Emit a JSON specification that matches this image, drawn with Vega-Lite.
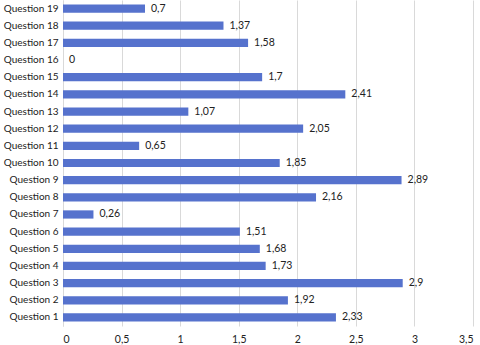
{
  "$schema": "https://vega.github.io/schema/vega-lite/v6.json",
  "width": 410,
  "height": 326,
  "autosize": {"type": "none"},
  "padding": {"left": 63, "top": 0, "right": 7, "bottom": 19},
  "background": "white",
  "config": {
    "locale": {"number": {"decimal": ",", "thousands": ".", "grouping": [3], "currency": ["", " €"]}},
    "view": {"stroke": null},
    "font": "Lato"
  },
  "data": {
    "values": [
      {"question": "Question 1", "value": 2.33},
      {"question": "Question 2", "value": 1.92},
      {"question": "Question 3", "value": 2.9},
      {"question": "Question 4", "value": 1.73},
      {"question": "Question 5", "value": 1.68},
      {"question": "Question 6", "value": 1.51},
      {"question": "Question 7", "value": 0.26},
      {"question": "Question 8", "value": 2.16},
      {"question": "Question 9", "value": 2.89},
      {"question": "Question 10", "value": 1.85},
      {"question": "Question 11", "value": 0.65},
      {"question": "Question 12", "value": 2.05},
      {"question": "Question 13", "value": 1.07},
      {"question": "Question 14", "value": 2.41},
      {"question": "Question 15", "value": 1.7},
      {"question": "Question 16", "value": 0},
      {"question": "Question 17", "value": 1.58},
      {"question": "Question 18", "value": 1.37},
      {"question": "Question 19", "value": 0.7}
    ]
  },
  "encoding": {
    "y": {
      "field": "question",
      "type": "nominal",
      "sort": ["Question 19","Question 18","Question 17","Question 16","Question 15","Question 14","Question 13","Question 12","Question 11","Question 10","Question 9","Question 8","Question 7","Question 6","Question 5","Question 4","Question 3","Question 2","Question 1"],
      "scale": {"paddingInner": 0.52, "paddingOuter": 0.26},
      "axis": {
        "title": null,
        "domain": true,
        "domainColor": "#d9d9d9",
        "ticks": false,
        "labelPadding": 5,
        "labelFontSize": 10,
        "labelColor": "#222222",
        "labelFont": "Lato"
      }
    },
    "x": {
      "field": "value",
      "type": "quantitative",
      "scale": {"domain": [0, 3.5], "nice": false},
      "axis": {
        "title": null,
        "values": [0, 0.5, 1, 1.5, 2, 2.5, 3, 3.5],
        "format": "~g",
        "domain": false,
        "ticks": false,
        "grid": true,
        "gridColor": "#d9d9d9",
        "gridWidth": 1,
        "labelPadding": 8,
        "labelFontSize": 10.5,
        "labelColor": "#222222",
        "labelFont": "Lato"
      }
    }
  },
  "layer": [
    {"mark": {"type": "bar", "color": "#5672CD"}},
    {
      "mark": {"type": "text", "align": "left", "baseline": "middle", "dx": 6, "fontSize": 10.5, "color": "#222222", "font": "Lato"},
      "encoding": {"text": {"field": "value", "type": "quantitative", "format": "~g"}}
    }
  ]
}
